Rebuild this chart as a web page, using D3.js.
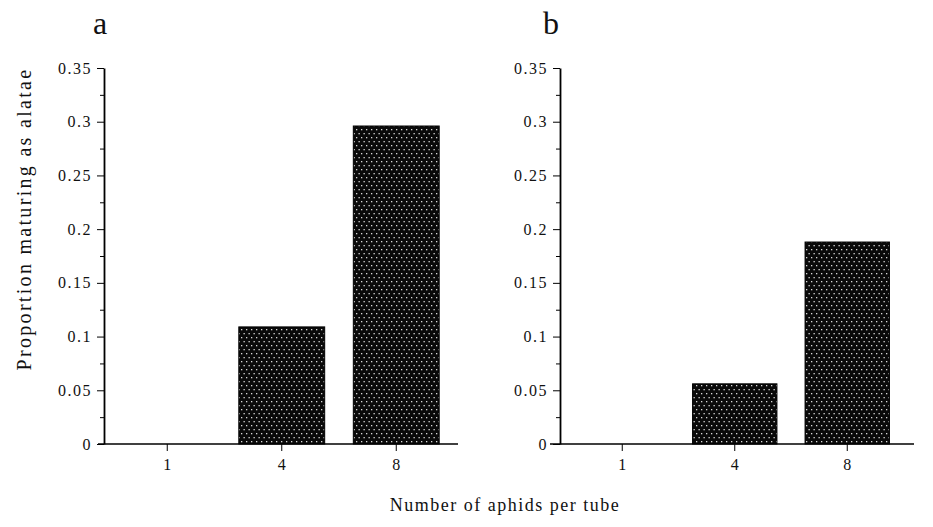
<!DOCTYPE html>
<html>
<head>
<meta charset="utf-8">
<script src="https://cdn.jsdelivr.net/npm/d3@7"></script>
<style>
  body { margin: 0; background: #fff; }
  text { font-family: "Liberation Serif", "Times New Roman", serif; fill: #111; }
</style>
</head>
<body>
<div id="chart"></div>
<script>
// data
var categories = ["1", "4", "8"];
var valuesA = [0, 0.109, 0.296];
var valuesB = [0, 0.056, 0.188];
var majorTicks = [0, 0.05, 0.1, 0.15, 0.2, 0.25, 0.3, 0.35];
var minorTicks = [0.025, 0.075, 0.125, 0.175, 0.225, 0.275, 0.325];
var panelNames = ["a", "b"];

var width = 933, height = 527;

var svg = d3.select("#chart")
    .append("svg")
    .attr("width", width)
    .attr("height", height);

// dotted fill for the bars
var defs = svg.append("defs");
var pat = defs.append("pattern")
    .attr("id", "dots")
    .attr("patternUnits", "userSpaceOnUse")
    .attr("width", 5)
    .attr("height", 8);
pat.append("rect").attr("width", 5).attr("height", 8).attr("fill", "#0a0a0a");
pat.append("rect").attr("x", 1).attr("y", 1).attr("width", 1.3).attr("height", 1.3).attr("fill", "#d8d8d8");
pat.append("rect").attr("x", 3.5).attr("y", 5).attr("width", 1.3).attr("height", 1.3).attr("fill", "#d8d8d8");

var y = d3.scaleLinear()
    .domain([0, 0.35])
    .range([444, 68]);

// layout of the two panels
var panels = [
    {name: panelNames[0], values: valuesA, axisX: 104, lineFrom: 98, lineTo: 458, band: [110, 453.5], labelX: 100},
    {name: panelNames[1], values: valuesB, axisX: 560, lineFrom: 550, lineTo: 914, band: [566, 903.5], labelX: 551}
];

panels.forEach(function(p) {
    var g = svg.append("g");

    var x = d3.scaleBand()
        .domain(categories)
        .range(p.band)
        .paddingInner(0.25)
        .paddingOuter(0.125);

    // bars
    g.selectAll(".bar")
        .data(p.values)
        .enter().append("rect")
        .attr("class", "bar")
        .attr("x", function(d, i) { return x(categories[i]); })
        .attr("y", function(d) { return y(d); })
        .attr("width", x.bandwidth())
        .attr("height", function(d) { return y(0) - y(d); })
        .attr("fill", "url(#dots)")
        .attr("stroke", "#000")
        .attr("stroke-width", 1)
        .style("display", function(d) { return d > 0 ? null : "none"; });

    // x axis line (runs a bit past the y axis on the left)
    g.append("line")
        .attr("x1", p.lineFrom).attr("x2", p.lineTo)
        .attr("y1", y(0)).attr("y2", y(0))
        .attr("stroke", "#000").attr("stroke-width", 1.5);

    var xAxis = d3.axisBottom(x).tickSize(7).tickSizeOuter(0).tickPadding(8);
    var xg = g.append("g")
        .attr("transform", "translate(0," + y(0) + ")")
        .call(xAxis);
    xg.select(".domain").remove();
    xg.selectAll("text").attr("font-size", "16px").attr("font-family", "Liberation Serif");

    // y axis: major ticks with labels
    var yAxis = d3.axisLeft(y)
        .tickValues(majorTicks)
        .tickFormat(function(d) { return d3.format("")(+d.toFixed(2)); })
        .tickSize(7).tickSizeOuter(0).tickPadding(5);
    var yg = g.append("g")
        .attr("transform", "translate(" + p.axisX + ",0)")
        .call(yAxis);
    yg.select(".domain").attr("stroke-width", 1.8);
    yg.selectAll("text")
        .attr("font-size", "16px")
        .attr("font-family", "Liberation Serif")
        .attr("letter-spacing", "1.5px");

    // minor ticks
    var yMinor = d3.axisLeft(y).tickValues(minorTicks).tickSize(4).tickFormat("");
    var ym = g.append("g")
        .attr("transform", "translate(" + p.axisX + ",0)")
        .call(yMinor);
    ym.select(".domain").remove();

    // panel letter
    g.append("text")
        .attr("x", p.labelX)
        .attr("y", 34)
        .attr("text-anchor", "middle")
        .attr("font-size", "32px")
        .text(p.name);
});

// axis titles
svg.append("text")
    .attr("transform", "translate(31,219) rotate(-90)")
    .attr("text-anchor", "middle")
    .attr("font-size", "20px")
    .attr("letter-spacing", "2.3px")
    .text("Proportion maturing as alatae");

svg.append("text")
    .attr("x", 505)
    .attr("y", 511)
    .attr("text-anchor", "middle")
    .attr("font-size", "18px")
    .attr("letter-spacing", "1.5px")
    .text("Number of aphids per tube");
</script>
</body>
</html>
